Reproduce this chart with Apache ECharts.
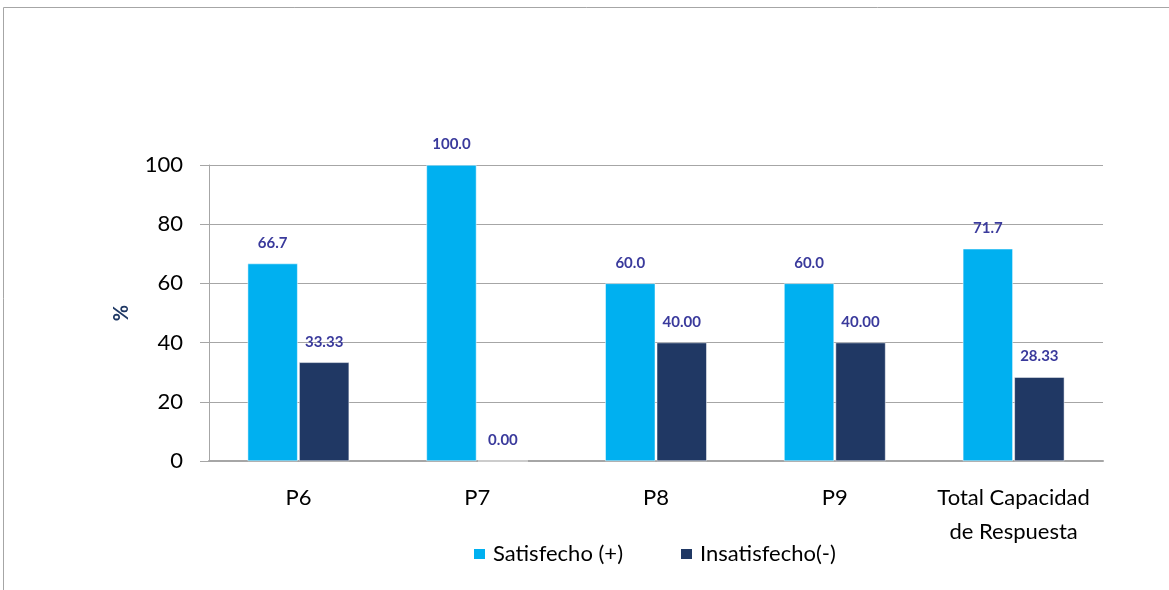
<!DOCTYPE html>
<html>
<head>
<meta charset="utf-8">
<script src="https://cdn.jsdelivr.net/npm/echarts@6/dist/echarts.min.js"></script>
<style>
html,body{margin:0;padding:0;background:#fff;}
#chart{width:1169px;height:590px;}
</style>
</head>
<body>
<div id="chart"></div>
<script>
// Categories and values (%)
const categories = ['P6', 'P7', 'P8', 'P9', 'Total Capacidad\nde Respuesta'];
const satisfecho = [66.7, 100.0, 60.0, 60.0, 71.7];
const insatisfecho = [33.33, 0.00, 40.00, 40.00, 28.33];
const yTicks = [0, 20, 40, 60, 80, 100];

const textFont = 'Lato, "Open Sans", sans-serif';
const chart = echarts.init(document.getElementById('chart'), null, {renderer: 'canvas'});

const valueLabel = (digits) => ({
  show: true,
  position: 'top',
  distance: 13,
  color: '#3a3a9c',
  fontWeight: 'bold',
  fontSize: 15,
  fontFamily: textFont,
  formatter: p => p.value.toFixed(digits)
});

chart.setOption({
  animation: false,
  graphic: [{
    type: 'polyline',
    shape: {points: [[3.5, 590], [3.5, 7.5], [1169, 7.5]]},
    style: {stroke: '#a6a6a6', lineWidth: 1, fill: null}
  }],
  grid: {left: 209, right: 66, top: 165, bottom: 129, containLabel: false},
  legend: {
    top: 538,
    left: 467,
    itemWidth: 13,
    itemHeight: 12,
    itemGap: 56,
    icon: 'rect',
    textStyle: {fontSize: 22, color: '#000', fontFamily: textFont, padding: [0, 0, 0, 2]}
  },
  xAxis: {
    type: 'category',
    data: categories,
    axisLine: {lineStyle: {color: '#a6a6a6', width: 2}},
    axisTick: {show: false},
    axisLabel: {interval: 0, fontSize: 22, color: '#000', fontFamily: textFont, margin: 20, lineHeight: 34}
  },
  yAxis: {
    type: 'value',
    min: yTicks[0],
    max: yTicks[yTicks.length - 1],
    interval: 20,
    name: '%',
    nameLocation: 'middle',
    nameGap: 77,
    nameRotate: 90,
    nameTextStyle: {fontSize: 20, fontWeight: 'bold', color: '#1f3864', fontFamily: textFont},
    axisLine: {show: true, lineStyle: {color: '#a6a6a6', width: 1}},
    axisTick: {show: true, length: 9, lineStyle: {color: '#a6a6a6'}},
    splitLine: {lineStyle: {color: '#a6a6a6', width: 1}},
    axisLabel: {fontSize: 22, color: '#000', fontFamily: textFont, margin: 26}
  },
  series: [
    {
      name: 'Satisfecho (+)',
      type: 'bar',
      data: satisfecho,
      barWidth: 50,
      barGap: '3%',
      itemStyle: {color: '#00b0f0', borderColor: '#fff', borderWidth: 0.5},
      label: valueLabel(1)
    },
    {
      name: 'Insatisfecho(-)',
      type: 'bar',
      data: insatisfecho,
      barWidth: 50,
      itemStyle: {color: '#203864', borderColor: '#fff', borderWidth: 0.5},
      label: valueLabel(2)
    }
  ]
});
</script>
</body>
</html>
